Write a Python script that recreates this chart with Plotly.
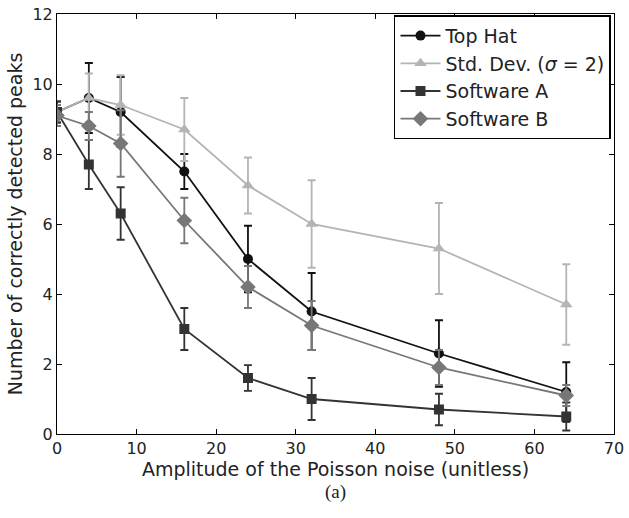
import plotly.graph_objects as go

noise = [0, 4, 8, 16, 24, 32, 48, 64]

top_hat = [9.2, 9.6, 9.2, 7.5, 5.0, 3.5, 2.3, 1.2]
top_hat_err = [0.3, 1.0, 1.0, 0.5, 0.95, 1.1, 0.95, 0.85]

std_dev = [9.2, 9.6, 9.4, 8.7, 7.1, 6.0, 5.3, 3.7]
std_dev_err = [0.3, 0.7, 0.85, 0.9, 0.8, 1.25, 1.3, 1.15]

soft_a = [9.2, 7.7, 6.3, 3.0, 1.6, 1.0, 0.7, 0.5]
soft_a_err = [0.3, 0.7, 0.75, 0.6, 0.37, 0.6, 0.45, 0.4]

soft_b = [9.1, 8.8, 8.3, 6.1, 4.2, 3.1, 1.9, 1.1]
soft_b_err = [0.3, 0.4, 0.95, 0.65, 0.6, 0.7, 0.5, 0.3]

series = [
    ("Top Hat", top_hat, top_hat_err, "#111111", "circle", 10),
    ("Std. Dev. (<i>σ</i> = 2)", std_dev, std_dev_err, "#b4b4b4", "triangle-up", 11),
    ("Software A", soft_a, soft_a_err, "#333333", "square", 10),
    ("Software B", soft_b, soft_b_err, "#777777", "diamond", 12),
]

fig = go.Figure()
for name, ys, err, color, sym, size in series:
    fig.add_trace(go.Scatter(
        x=noise, y=ys, name=name, mode="lines+markers",
        line=dict(color=color, width=1.8),
        marker=dict(symbol=sym, size=size, color=color),
        error_y=dict(type="data", array=err, visible=True, color=color,
                     thickness=1.8, width=4),
    ))

axis_common = dict(
    showline=True, linecolor="black", linewidth=1, mirror="ticks",
    ticks="inside", ticklen=5, tickcolor="black", showgrid=False,
    zeroline=False, automargin=False, ticklabeloverflow="allow",
    tickfont=dict(family="DejaVu Sans", size=16, color="#222"),
)

fig.update_layout(
    width=629, height=518,
    margin=dict(l=57, r=15, t=14, b=84),
    paper_bgcolor="white", plot_bgcolor="white",
    font=dict(family="DejaVu Sans", color="#222"),
    xaxis=dict(range=[0, 70], dtick=10, **axis_common,
               title=dict(text="Amplitude of the Poisson noise (unitless)",
                          font=dict(size=19), standoff=2)),
    yaxis=dict(range=[0, 12], dtick=2, **axis_common,
               title=dict(text="Number of correctly detected peaks",
                          font=dict(size=19), standoff=4)),
    legend=dict(x=0.605, y=0.997, xanchor="left", yanchor="top",
                bordercolor="black", borderwidth=1.5, bgcolor="white",
                font=dict(size=19, family="DejaVu Sans"),
                tracegroupgap=0, itemwidth=40),
    annotations=[dict(text="(a)", xref="paper", yref="paper",
                      x=0.5, y=-0.17, showarrow=False,
                      font=dict(family="Liberation Serif", size=19, color="#222"))],
)

fig.write_html("out.html")
